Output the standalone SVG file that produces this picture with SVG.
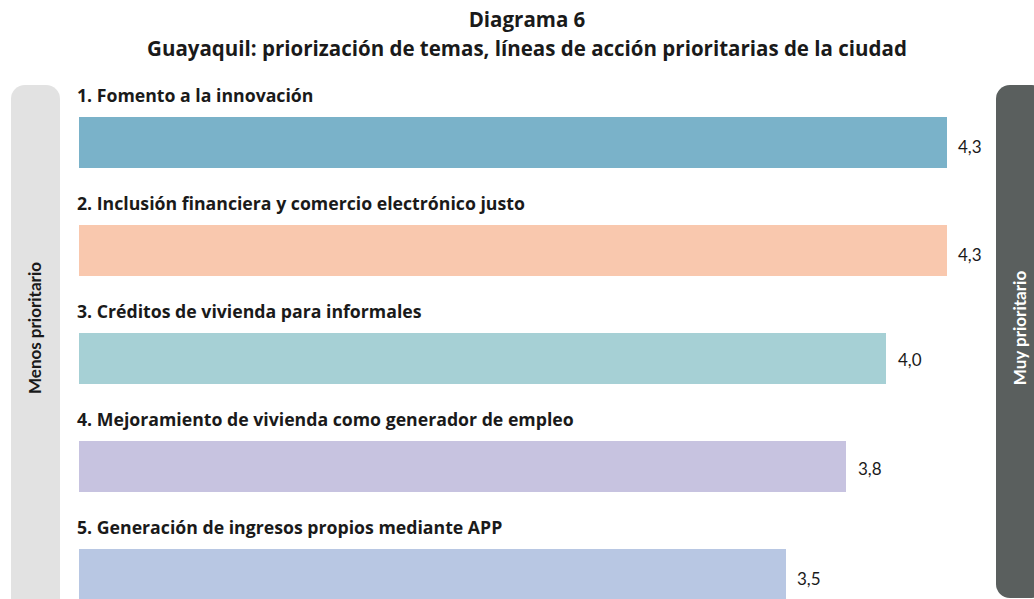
<svg xmlns="http://www.w3.org/2000/svg" width="1034" height="599" viewBox="0 0 1034 599">
<style>
.t{font-family:"Open Sans","Liberation Sans",sans-serif;font-weight:bold;fill:#1a1a1a}
.title{font-size:20.5px;text-anchor:middle}
.lab{font-size:17.7px}
.val{font-family:Lato,"Open Sans","Liberation Sans",sans-serif;font-size:17px;fill:#1a1a1a}
.side{font-family:Lato,"Open Sans","Liberation Sans",sans-serif;font-weight:bold;font-size:17px;text-anchor:middle}
</style>
<rect width="1034" height="599" fill="#ffffff"/>
<g id="title">
<text class="t title" x="527" y="27">Diagrama 6</text>
<text class="t title" x="527" y="56">Guayaquil: priorización de temas, líneas de acción prioritarias de la ciudad</text>
</g>
<g id="left-axis">
<rect x="11" y="85" width="49" height="530" rx="14" fill="#e2e2e2"/>
<text class="side" fill="#1a1a1a" transform="translate(41,328) rotate(-90)">Menos prioritario</text>
</g>
<g id="right-axis">
<rect x="996" y="85" width="50" height="513" rx="14" fill="#5a5f5e"/>
<text class="side" fill="#ffffff" transform="translate(1026,328) rotate(-90)">Muy prioritario</text>
</g>
<g id="item1">
<text class="t lab" x="77" y="102">1. Fomento a la innovación</text>
<rect x="79" y="117" width="868" height="51" fill="#7ab2c9"/>
<text class="val" x="958" y="153">4,3</text>
</g>
<g id="item2">
<text class="t lab" x="77" y="210">2. Inclusión financiera y comercio electrónico justo</text>
<rect x="79" y="225" width="868" height="51" fill="#f9c8ae"/>
<text class="val" x="958" y="261">4,3</text>
</g>
<g id="item3">
<text class="t lab" x="77" y="318">3. Créditos de vivienda para informales</text>
<rect x="79" y="333" width="807" height="51" fill="#a6d0d5"/>
<text class="val" x="898" y="366">4,0</text>
</g>
<g id="item4">
<text class="t lab" x="77" y="426">4. Mejoramiento de vivienda como generador de empleo</text>
<rect x="79" y="441" width="767" height="51" fill="#c7c3e0"/>
<text class="val" x="858" y="475">3,8</text>
</g>
<g id="item5">
<text class="t lab" x="77" y="534">5. Generación de ingresos propios mediante APP</text>
<rect x="79" y="549" width="707" height="51" fill="#b8c7e3"/>
<text class="val" x="797" y="585">3,5</text>
</g>
<g id="connectors"/>
</svg>
